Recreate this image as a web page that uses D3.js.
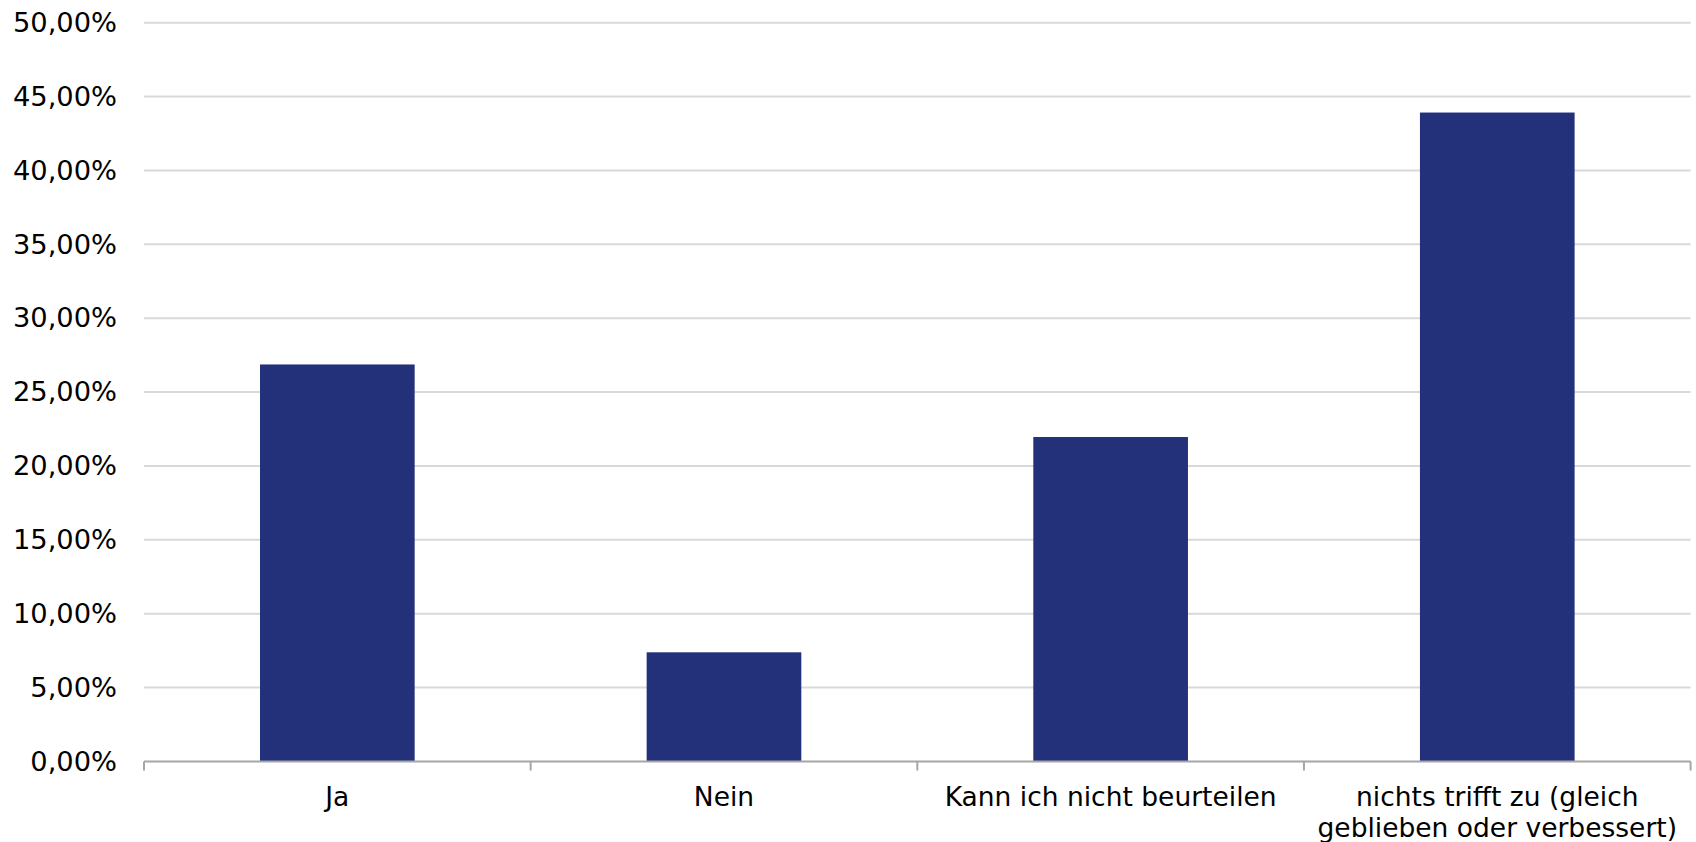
<!DOCTYPE html>
<html>
<head>
<meta charset="utf-8">
<script src="https://cdn.jsdelivr.net/npm/d3@7"></script>
<style>
  html, body { margin: 0; padding: 0; background: #ffffff; }
  svg { display: block; }
  text { font-family: "DejaVu Sans", Verdana, sans-serif; fill: #000; }
</style>
</head>
<body>
<svg id="chart" width="1696" height="842"></svg>
<script>
const categories = ["Ja", "Nein", "Kann ich nicht beurteilen", "nichts trifft zu (gleich geblieben oder verbessert)"];
const values = [26.87, 7.39, 21.96, 43.92];
const yTicks = [0, 5, 10, 15, 20, 25, 30, 35, 40, 45, 50];

const W = 1696, H = 842;
const margin = { left: 144, right: 5.4, top: 22.7, bottom: 80.5 };
const svg = d3.select("#chart");

const x = d3.scaleBand()
  .domain(categories)
  .range([margin.left, W - margin.right])
  .paddingInner(0.6)
  .paddingOuter(0.3);

const y = d3.scaleLinear()
  .domain([0, 50])
  .range([H - margin.bottom, margin.top]);

const fmt = v => v.toFixed(2).replace(".", ",") + "%";

// gridlines
svg.append("g")
  .selectAll("line")
  .data(yTicks.filter(t => t > 0))
  .join("line")
  .attr("x1", margin.left)
  .attr("x2", W - margin.right)
  .attr("y1", d => y(d))
  .attr("y2", d => y(d))
  .attr("stroke", "#d9d9d9")
  .attr("stroke-width", 2);

// y axis labels
const yAxis = d3.axisLeft(y).tickValues(yTicks).tickFormat(fmt).tickSize(0).tickPadding(27);
const yg = svg.append("g").attr("transform", `translate(${margin.left},0)`).call(yAxis);
yg.select(".domain").remove();
yg.selectAll("text")
  .attr("font-size", 27.3)
  .attr("font-family", "DejaVu Sans, Verdana, sans-serif")
  .attr("fill", "#000");

// bars
svg.append("g")
  .selectAll("rect")
  .data(categories)
  .join("rect")
  .attr("x", d => x(d))
  .attr("width", x.bandwidth())
  .attr("y", (d, i) => y(values[i]))
  .attr("height", (d, i) => y(0) - y(values[i]))
  .attr("fill", "#23317b");

// x axis baseline and boundary ticks
const step = x.step();
const x0 = margin.left;
const baseY = y(0);
const axisG = svg.append("g");
axisG.append("line")
  .attr("x1", x0).attr("x2", W - margin.right)
  .attr("y1", baseY).attr("y2", baseY)
  .attr("stroke", "#a6a6a6").attr("stroke-width", 2);
axisG.selectAll("line.tick")
  .data(d3.range(categories.length + 1))
  .join("line")
  .attr("class", "tick")
  .attr("x1", i => x0 + i * step).attr("x2", i => x0 + i * step)
  .attr("y1", baseY).attr("y2", baseY + 9)
  .attr("stroke", "#a6a6a6").attr("stroke-width", 2);

// x labels with wrapping
const labelG = svg.append("g");
const maxW = 360;
categories.forEach(cat => {
  const cx = x(cat) + x.bandwidth() / 2;
  const t = labelG.append("text")
    .attr("x", cx)
    .attr("y", baseY + 44)
    .attr("text-anchor", "middle")
    .attr("font-size", 26.5);
  const words = cat.split(" ");
  let line = [];
  let tspan = t.append("tspan").attr("x", cx).attr("dy", 0);
  words.forEach(w => {
    line.push(w);
    tspan.text(line.join(" "));
    if (tspan.node().getComputedTextLength() > maxW && line.length > 1) {
      line.pop();
      tspan.text(line.join(" "));
      line = [w];
      tspan = t.append("tspan").attr("x", cx).attr("dy", 31).text(w);
    }
  });
});
</script>
</body>
</html>
